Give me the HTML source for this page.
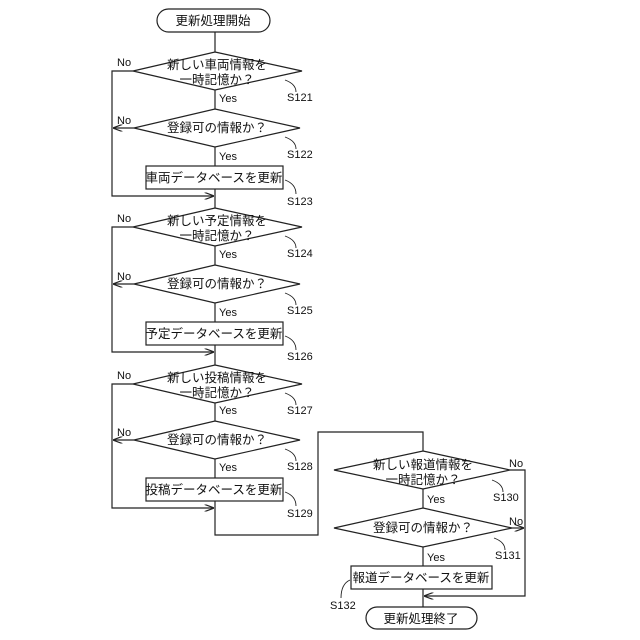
<!DOCTYPE html>
<html><head><meta charset="utf-8"><style>
html,body{margin:0;padding:0;background:#fff;}
svg{display:block;}
text{font-family:"Liberation Sans","Noto Sans CJK JP",sans-serif;fill:#111;}
.j{font-size:12.5px;text-anchor:middle;}
.s{font-size:11px;}
</style></head><body>
<svg width="640" height="640" viewBox="0 0 640 640" xmlns="http://www.w3.org/2000/svg">
<defs><marker id="a" markerWidth="8" markerHeight="6" refX="7" refY="3" orient="auto"><path d="M0,0 L8,3 L0,6" fill="none" stroke="#222" stroke-width="1"/></marker></defs>
<g fill="none" stroke="#222" stroke-width="1.2">
<rect x="157" y="9" width="113" height="23" rx="11.5"/>
<line x1="215" y1="32" x2="215" y2="52"/>
<polygon points="215,52 302,71 215,90 133,71"/>
<line x1="215" y1="90" x2="215" y2="109"/>
<polygon points="215,109 300,128 215,147 134,128"/>
<line x1="215" y1="147" x2="215" y2="166"/>
<rect x="146" y="166" width="137" height="23"/>
<line x1="215" y1="189" x2="215" y2="208"/>
<polyline points="133,71 112,71 112,196 213,196" marker-end="url(#a)"/>
<line x1="134" y1="128" x2="114" y2="128" marker-end="url(#a)"/>

<polygon points="215,208 302,227 215,246 133,227"/>
<line x1="215" y1="246" x2="215" y2="265"/>
<polygon points="215,265 300,284 215,303 134,284"/>
<line x1="215" y1="303" x2="215" y2="322"/>
<rect x="146" y="322" width="137" height="23"/>
<line x1="215" y1="345" x2="215" y2="365"/>
<polyline points="133,227 112,227 112,352 213,352" marker-end="url(#a)"/>
<line x1="134" y1="284" x2="114" y2="284" marker-end="url(#a)"/>

<polygon points="215,365 302,384 215,403 133,384"/>
<line x1="215" y1="403" x2="215" y2="421"/>
<polygon points="215,421 300,440 215,459 134,440"/>
<line x1="215" y1="459" x2="215" y2="478"/>
<rect x="146" y="478" width="137" height="23"/>
<polyline points="133,384 112,384 112,508 213,508" marker-end="url(#a)"/>
<line x1="134" y1="440" x2="114" y2="440" marker-end="url(#a)"/>
<polyline points="215,501 215,535 318,535 318,432 423,432 423,451"/>

<polygon points="423,451 510,470 423,489 334,470"/>
<line x1="423" y1="489" x2="423" y2="508"/>
<polygon points="423,508 512,528 423,547 334,528"/>
<line x1="423" y1="547" x2="423" y2="566"/>
<rect x="351" y="566" width="141" height="23"/>
<line x1="423" y1="589" x2="423" y2="607"/>
<polyline points="510,470 525,470 525,596 425,596" marker-end="url(#a)"/>
<line x1="512" y1="528" x2="523" y2="528" marker-end="url(#a)"/>
<rect x="366" y="607" width="111" height="22" rx="11"/>

<g stroke-width="0.9">
<path d="M285,80 Q296,84 296,92"/>
<path d="M285,137 Q296,141 296,149"/>
<path d="M285,180 Q296,184 296,194"/>
<path d="M285,236 Q296,240 296,248"/>
<path d="M285,293 Q296,297 296,305"/>
<path d="M285,336 Q296,340 296,350"/>
<path d="M285,393 Q296,397 296,405"/>
<path d="M285,449 Q296,453 296,461"/>
<path d="M285,492 Q296,496 296,506"/>
<path d="M492,480 Q503,484 503,492"/>
<path d="M494,538 Q505,542 505,550"/>
<path d="M350,580 Q341,584 341,598"/>
</g>
</g>
<text class="j" x="213" y="25">更新処理開始</text>
<text class="j" x="217" y="69">新しい車両情報を</text>
<text class="j" x="217" y="84">一時記憶か？</text>
<text class="j" x="217" y="132">登録可の情報か？</text>
<text class="j" x="214" y="182">車両データベースを更新</text>
<text class="j" x="217" y="225">新しい予定情報を</text>
<text class="j" x="217" y="240">一時記憶か？</text>
<text class="j" x="217" y="288">登録可の情報か？</text>
<text class="j" x="214" y="338">予定データベースを更新</text>
<text class="j" x="217" y="382">新しい投稿情報を</text>
<text class="j" x="217" y="397">一時記憶か？</text>
<text class="j" x="217" y="444">登録可の情報か？</text>
<text class="j" x="214" y="494">投稿データベースを更新</text>
<text class="j" x="423" y="469">新しい報道情報を</text>
<text class="j" x="423" y="484">一時記憶か？</text>
<text class="j" x="423" y="532">登録可の情報か？</text>
<text class="j" x="421" y="582">報道データベースを更新</text>
<text class="j" x="421" y="623">更新処理終了</text>
<g class="s">
<text x="117" y="66">No</text><text x="117" y="124">No</text>
<text x="117" y="222">No</text><text x="117" y="280">No</text>
<text x="117" y="379">No</text><text x="117" y="436">No</text>
<text x="509" y="467">No</text><text x="509" y="525">No</text>
<text x="219" y="102">Yes</text><text x="219" y="160">Yes</text>
<text x="219" y="258">Yes</text><text x="219" y="316">Yes</text>
<text x="219" y="414">Yes</text><text x="219" y="471">Yes</text>
<text x="427" y="503">Yes</text><text x="427" y="561">Yes</text>
<text x="287" y="101">S121</text><text x="287" y="158">S122</text>
<text x="287" y="205">S123</text><text x="287" y="257">S124</text>
<text x="287" y="314">S125</text><text x="287" y="360">S126</text>
<text x="287" y="414">S127</text><text x="287" y="470">S128</text>
<text x="287" y="517">S129</text><text x="493" y="501">S130</text>
<text x="495" y="559">S131</text><text x="330" y="609">S132</text>
</g>
</svg>
</body></html>
